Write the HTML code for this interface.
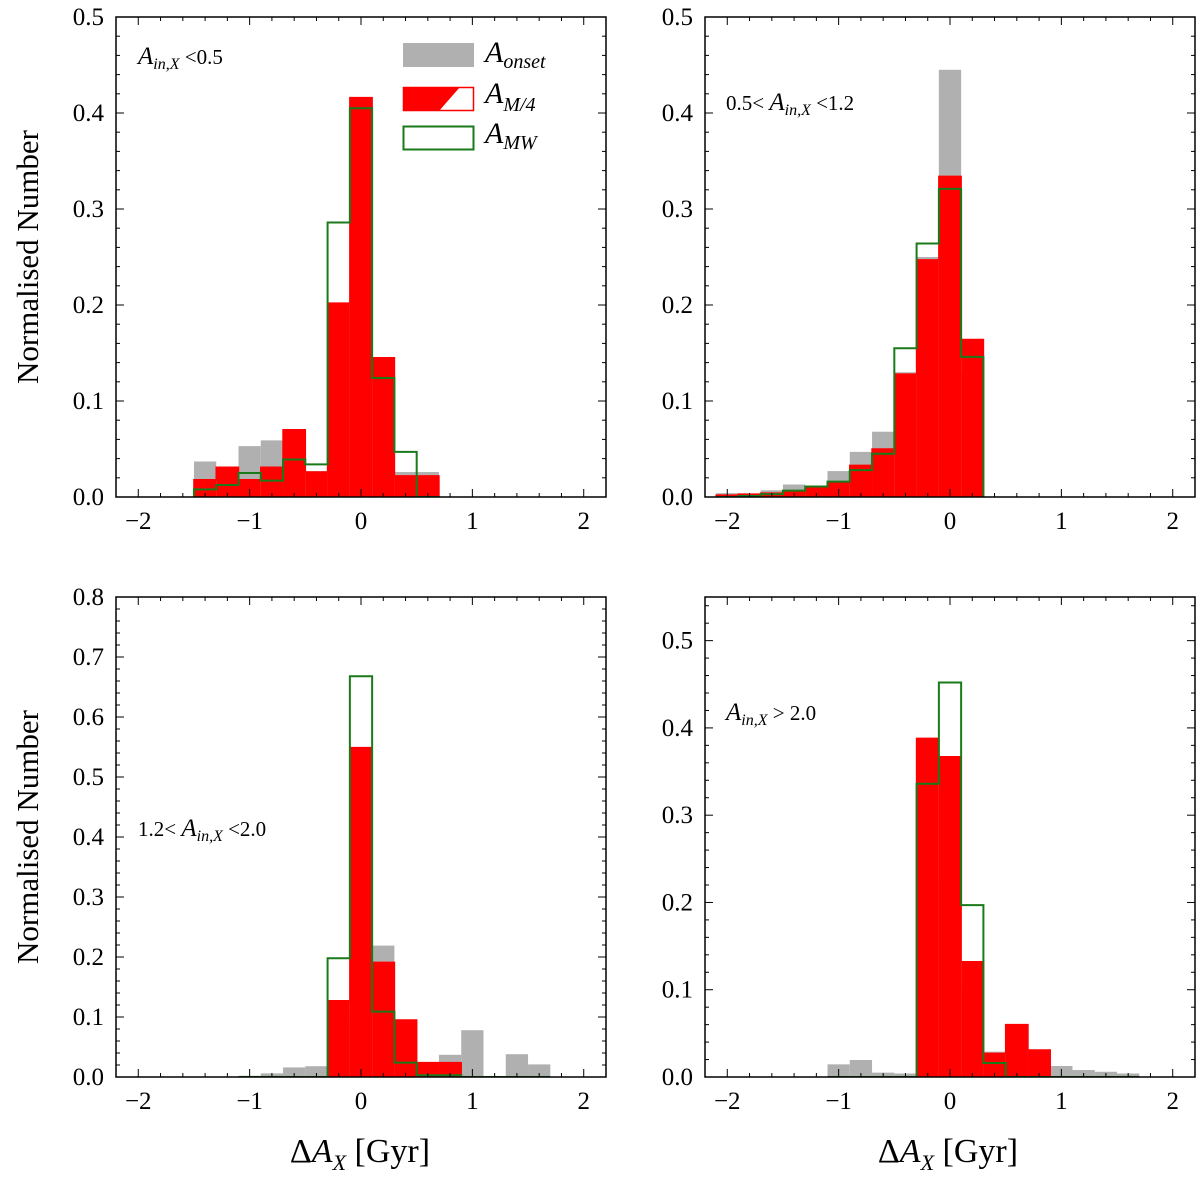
<!DOCTYPE html>
<html><head><meta charset="utf-8"><style>
body{margin:0;background:#fff;}
svg{display:block;font-family:"Liberation Serif","DejaVu Serif",serif;}
</style></head><body>
<svg id="fig" width="1200" height="1179" viewBox="0 0 1200 1179">
<g id="panels"></g>
<text x="38" y="257" font-size="31" text-anchor="middle" transform="rotate(-90 38 257)">Normalised Number</text>
<text x="38" y="837" font-size="31" text-anchor="middle" transform="rotate(-90 38 837)">Normalised Number</text>
<text x="360" y="1162" font-size="34" text-anchor="middle">Δ<tspan font-style="italic">A</tspan><tspan font-size="22" font-style="italic" dy="8">X</tspan><tspan dy="-8"> [Gyr]</tspan></text>
<text x="948" y="1162" font-size="34" text-anchor="middle">Δ<tspan font-style="italic">A</tspan><tspan font-size="22" font-style="italic" dy="8">X</tspan><tspan dy="-8"> [Gyr]</tspan></text>
<g>
<rect x="403" y="43" width="71" height="24" fill="#b0b0b0"/>
<polygon points="403,87 460,87 439,111 403,111" fill="#ff0000"/>
<rect x="403.5" y="87.5" width="70" height="23" fill="none" stroke="#ff0000" stroke-width="1.5"/>
<rect x="403.5" y="126.5" width="70" height="23" fill="none" stroke="#1a7a1a" stroke-width="2"/>
<text x="485" y="62" font-size="30" font-style="italic">A<tspan font-size="20" dy="6">onset</tspan></text>
<text x="485" y="103" font-size="30" font-style="italic">A<tspan font-size="20" dy="8">M/4</tspan></text>
<text x="485" y="143" font-size="30" font-style="italic">A<tspan font-size="20" dy="6">MW</tspan></text>
</g>
</svg>
<script>
// Panel A: A_in < 0.5
const edgesA = [-1.5,-1.3,-1.1,-0.9,-0.7,-0.5,-0.3,-0.1,0.1,0.3,0.5,0.7];
const onsetA = [0.037,0.021,0.053,0.059,0.03,0.027,0.2,0.41,0.145,0.026,0.026];
const m4A    = [0.018,0.031,0.018,0.031,0.070,0.026,0.202,0.416,0.145,0.022,0.022];
const mwA    = [0.008,0.0125,0.025,0.017,0.039,0.034,0.286,0.405,0.124,0.047,0];
// Panel B: 0.5 < A_in < 1.2
const edgesB = [-2.1,-1.9,-1.7,-1.5,-1.3,-1.1,-0.9,-0.7,-0.5,-0.3,-0.1,0.1,0.3];
const onsetB = [0.004,0.003,0.007,0.013,0.011,0.027,0.047,0.068,0.13,0.25,0.445,0.13];
const m4B    = [0.002,0.003,0.004,0.005,0.011,0.015,0.033,0.05,0.128,0.247,0.334,0.164];
const mwB    = [0,0.001,0.003,0.0066,0.011,0.016,0.028,0.045,0.155,0.264,0.321,0.146];
// Panel C: 1.2 < A_in < 2.0
const edgesC = [-1.1,-0.9,-0.7,-0.5,-0.3,-0.1,0.1,0.3,0.5,0.7,0.9,1.1,1.3,1.5,1.7];
const onsetC = [0.002,0.006,0.016,0.018,0.1,0.5,0.219,0.06,0.02,0.037,0.078,0,0.038,0.021];
const m4C    = [0,0,0,0,0.127,0.549,0.191,0.095,0.024,0.024,0,0,0,0];
const mwC    = [0,0,0,0,0.198,0.668,0.109,0.024,0.003,0.003,0,0,0,0];
// Panel D: A_in > 2.0
const edgesD = [-1.1,-0.9,-0.7,-0.5,-0.3,-0.1,0.1,0.3,0.5,0.7,0.9,1.1,1.3,1.5,1.7];
const onsetD = [0.0145,0.0195,0.005,0.004,0.228,0.35,0.1,0.029,0.027,0.02,0.0126,0.008,0.006,0.004];
const m4D    = [0,0,0,0,0.388,0.367,0.132,0.027,0.06,0.031,0,0,0,0];
const mwD    = [0,0,0,0,0.336,0.452,0.197,0.016,0,0,0,0,0,0];
const xTicks = [-2,-1,0,1,2];
const yTicksA = [0,0.1,0.2,0.3,0.4,0.5];
const yTicksC = [0,0.1,0.2,0.3,0.4,0.5,0.6,0.7,0.8];

const NS="http://www.w3.org/2000/svg";
const root=document.getElementById('panels');
function mk(tag,attrs,parent){const e=document.createElementNS(NS,tag);for(const k in attrs)e.setAttribute(k,attrs[k]);(parent||root).appendChild(e);return e;}

const panels=[
 {id:'a',x0:116,x1:606,y0:17,y1:497,ymax:0.5,edges:edgesA,on:onsetA,m4:m4A,mw:mwA,yt:yTicksA,txt:['','<0.5'],tx:138,ty:64},
 {id:'b',x0:705,x1:1195,y0:17,y1:497,ymax:0.5,edges:edgesB,on:onsetB,m4:m4B,mw:mwB,yt:yTicksA,txt:['0.5< ','<1.2'],tx:726,ty:110},
 {id:'c',x0:116,x1:606,y0:597,y1:1077,ymax:0.8,edges:edgesC,on:onsetC,m4:m4C,mw:mwC,yt:yTicksC,txt:['1.2< ','<2.0'],tx:138,ty:836},
 {id:'d',x0:705,x1:1195,y0:597,y1:1077,ymax:0.55,edges:edgesD,on:onsetD,m4:m4D,mw:mwD,yt:yTicksA,txt:['','> 2.0'],tx:726,ty:720}
];
panels.forEach(p=>{
 const g=mk('g',{});
 
 
 const sx=v=>p.x0+(v+2.2)/4.4*(p.x1-p.x0);
 const sy=v=>p.y1-v/p.ymax*(p.y1-p.y0);
 const cp='clip'+p.id;
 const cl=mk('clipPath',{id:cp},g);mk('rect',{x:p.x0,y:p.y0,width:p.x1-p.x0,height:p.y1-p.y0},cl);
 const hg=mk('g',{'clip-path':'url(#'+cp+')'},g);
 p.on.forEach((v,i)=>{if(v<=0)return;
  const r=mk('rect',{x:sx(p.edges[i]),y:sy(v),width:sx(p.edges[i+1])-sx(p.edges[i]),height:sy(0)-sy(v),fill:'#b0b0b0'},hg);
  
  
 });
 p.m4.forEach((v,i)=>{if(v<=0)return;
  const r=mk('rect',{x:sx(p.edges[i]),y:sy(v),width:sx(p.edges[i+1])-sx(p.edges[i]),height:sy(0)-sy(v),fill:'#ff0000'},hg);
  
  
 });
 function step(vals,color,w,name){
  let d='M'+sx(p.edges[0])+','+sy(0);
  vals.forEach((v,i)=>{d+=' L'+sx(p.edges[i])+','+sy(v)+' L'+sx(p.edges[i+1])+','+sy(v);});
  d+=' L'+sx(p.edges[p.edges.length-1])+','+sy(0);
  const s=mk('path',{d:d,fill:'none',stroke:color,'stroke-width':w},hg);
  
  
 }
 step(p.m4,'#ff0000',1.5,'step-m4');
 step(p.mw,'#1a7a1a',2,'step-mw');
 const tk=mk('g',{stroke:'#000','stroke-width':1},g);
 for(let k=-11;k<=11;k++){const v=k*0.2;const x=sx(v);const major=Math.abs(v-Math.round(v))<1e-6;const L=major?8:4;
  mk('line',{x1:x,y1:p.y1,x2:x,y2:p.y1-L},tk);mk('line',{x1:x,y1:p.y0,x2:x,y2:p.y0+L},tk);}
 for(let k=0;k*0.02<=p.ymax+1e-9;k++){const v=k*0.02;const y=sy(v);const major=k%5===0;const L=major?8:4;
  mk('line',{x1:p.x0,y1:y,x2:p.x0+L,y2:y},tk);mk('line',{x1:p.x1,y1:y,x2:p.x1-L,y2:y},tk);}
 mk('rect',{x:p.x0,y:p.y0,width:p.x1-p.x0,height:p.y1-p.y0,fill:'none',stroke:'#000','stroke-width':1.5},g);
 xTicks.forEach(v=>{const t=mk('text',{x:sx(v),y:p.y1+32,'font-size':25,'text-anchor':'middle'},g);t.textContent=(v<0?'−':'')+Math.abs(v);
  
  });
 p.yt.forEach(v=>{const t=mk('text',{x:p.x0-12,y:sy(v)+8,'font-size':25,'text-anchor':'end'},g);t.textContent=v.toFixed(1);
  
  });
 const an=mk('text',{x:p.tx,y:p.ty,'font-size':21},g);
 
 
 an.innerHTML=p.txt[0]+'<tspan font-style="italic" font-size="25">A</tspan><tspan font-style="italic" font-size="16" dy="5">in,X</tspan><tspan dy="-5"> '+p.txt[1].replace('<','&lt;').replace('>','&gt;')+'</tspan>';
});
</script>
</body></html>
